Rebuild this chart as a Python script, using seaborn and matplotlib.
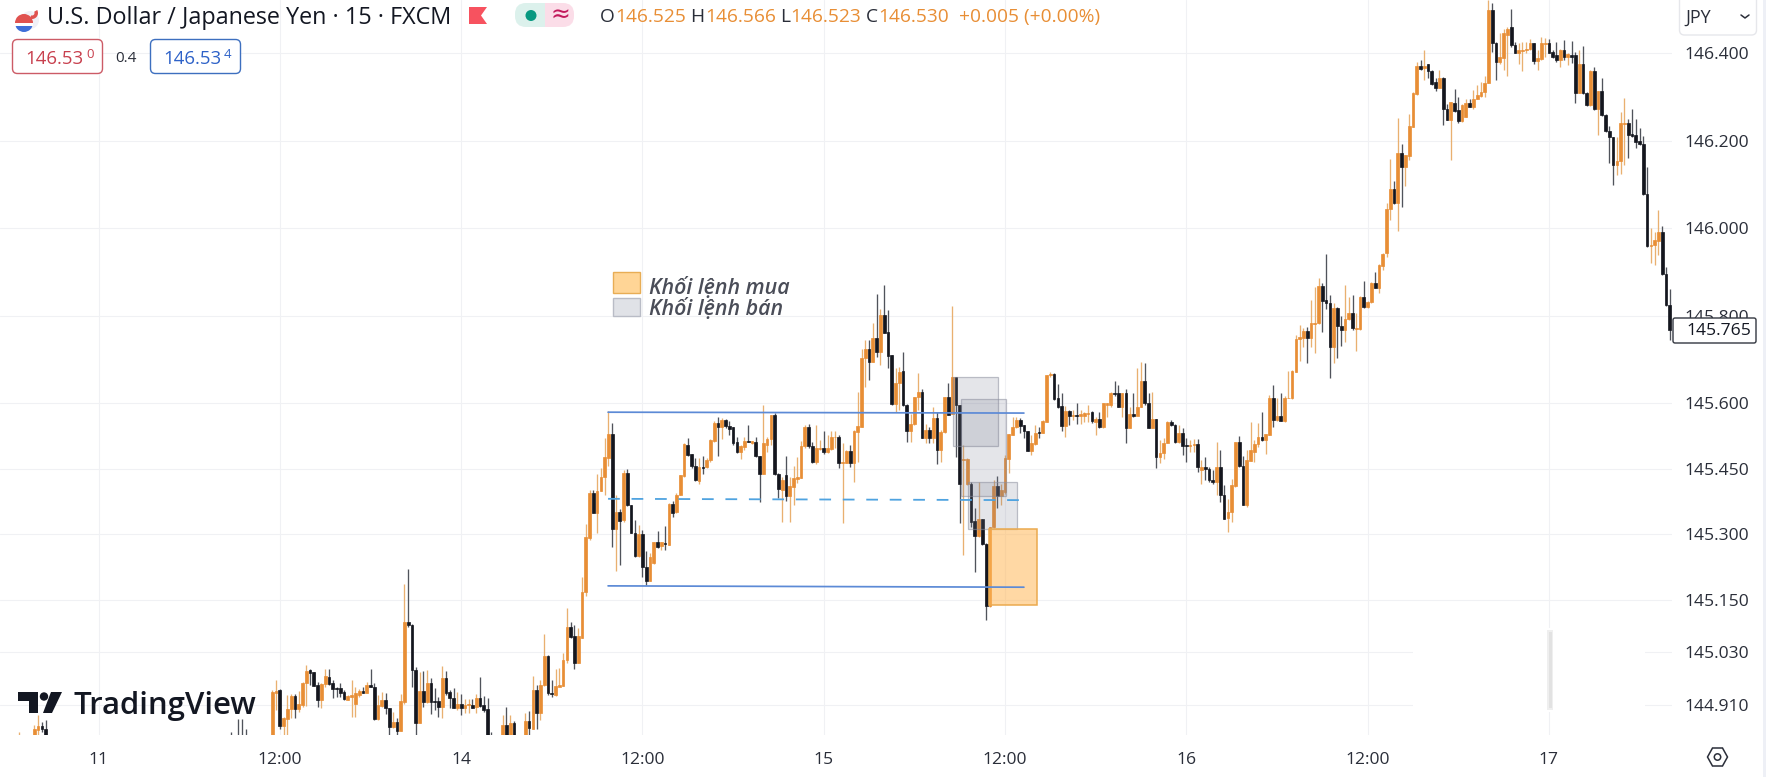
import numpy as np
import pandas as pd
import seaborn as sns
import matplotlib
matplotlib.use("Agg")
import matplotlib.pyplot as plt
from matplotlib.patches import Rectangle, FancyBboxPatch, Circle, Polygon, Wedge

# ---------- candle data (15-minute USD/JPY bars) ----------
opens = [144.83,144.938,144.944,144.861,144.877,144.900,144.930,144.900,144.909,144.959,
144.989,144.984,144.955,144.921,144.957,144.974,144.960,144.949,144.948,144.940,
144.922,144.928,144.911,144.932,144.941,144.938,144.955,144.950,144.877,144.907,
144.921,144.902,144.860,144.871,144.851,144.917,145.100,145.093,144.990,144.869,
144.942,144.917,144.961,144.919,144.919,144.906,144.971,144.940,144.925,144.904,
144.913,144.904,144.909,144.910,144.906,144.925,144.910,144.901,144.82,144.80,
144.79,144.80,144.864,144.80,144.869,144.80,144.81,144.82,144.873,144.856,
144.944,144.891,144.955,145.022,144.938,144.933,144.952,144.954,145.012,145.087,
145.067,145.006,145.064,145.169,145.291,145.394,145.348,145.400,145.432,145.474,
145.529,145.312,145.352,145.333,145.440,145.366,145.304,145.251,145.301,145.226,
145.194,145.234,145.282,145.274,145.280,145.276,145.370,145.350,145.390,145.434,
145.504,145.484,145.456,145.421,145.453,145.453,145.469,145.514,145.554,145.546,
145.562,145.548,145.544,145.510,145.489,145.499,145.514,145.508,145.511,145.479,
145.437,145.504,145.517,145.573,145.438,145.402,145.436,145.388,145.409,145.426,
145.428,145.501,145.546,145.502,145.466,145.495,145.497,145.488,145.495,145.522,
145.523,145.464,145.464,145.490,145.464,145.533,145.546,145.704,145.723,145.694,
145.748,145.716,145.801,145.762,145.710,145.597,145.645,145.673,145.595,145.536,
145.552,145.613,145.626,145.519,145.538,145.519,145.565,145.493,145.533,145.614,
145.576,145.659,145.595,145.470,145.416,145.416,145.331,145.297,145.334,145.277,
145.136,145.316,145.410,145.387,145.397,145.473,145.528,145.546,145.561,145.550,
145.536,145.491,145.506,145.534,145.532,145.557,145.663,145.666,145.611,145.592,
145.548,145.582,145.571,145.573,145.571,145.571,145.576,145.580,145.557,145.563,
145.546,145.595,145.595,145.624,145.622,145.592,145.622,145.544,145.576,145.571,
145.590,145.650,145.599,145.544,145.563,145.476,145.485,145.509,145.557,145.550,
145.512,145.531,145.504,145.502,145.504,145.506,145.448,145.454,145.449,145.425,
145.420,145.454,145.390,145.338,145.350,145.411,145.510,145.456,145.366,145.468,
145.489,145.506,145.523,145.516,145.526,145.612,145.561,145.571,145.558,145.611,
145.611,145.672,145.746,145.748,145.765,145.748,145.781,145.782,145.868,145.836,
145.828,145.727,145.817,145.776,145.767,145.792,145.805,145.769,145.769,145.843,
145.819,145.832,145.874,145.864,145.914,145.942,146.044,146.089,146.057,146.172,
146.140,146.165,146.232,146.307,146.370,146.365,146.375,146.359,146.333,146.319,
146.343,146.271,146.247,146.285,146.269,146.245,146.253,146.285,146.276,146.296,
146.302,146.311,146.332,146.498,146.422,146.379,146.388,146.441,146.460,146.418,
146.401,146.405,146.408,146.409,146.422,146.382,146.386,146.420,146.422,146.403,
146.395,146.385,146.408,146.391,146.395,146.395,146.309,146.375,146.309,146.281,
146.359,146.271,146.314,146.258,146.222,146.207,146.144,146.154,146.237,146.241,
146.214,146.212,146.199,146.191,146.078,145.959,145.961,145.971,145.990,145.895,145.824]

closes = [144.940,144.942,144.861,144.880,144.900,144.930,144.900,144.912,144.959,144.988,
144.982,144.954,144.921,144.957,144.976,144.957,144.946,144.947,144.938,144.923,
144.930,144.932,144.938,144.941,144.938,144.955,144.950,144.877,144.909,144.921,
144.902,144.860,144.871,144.851,144.919,145.100,145.093,144.990,144.869,144.942,
144.917,144.959,144.917,144.917,144.906,144.971,144.938,144.925,144.904,144.913,
144.904,144.910,144.911,144.904,144.925,144.908,144.898,144.82,144.80,144.79,
144.80,144.864,144.80,144.868,144.80,144.81,144.82,144.873,144.858,144.944,
144.891,144.955,145.022,144.938,144.934,144.953,144.955,145.012,145.087,145.066,
145.006,145.067,145.168,145.293,145.394,145.348,145.400,145.432,145.476,145.529,
145.312,145.352,145.331,145.440,145.366,145.304,145.251,145.301,145.226,145.194,
145.249,145.283,145.272,145.282,145.277,145.370,145.348,145.390,145.436,145.506,
145.482,145.455,145.423,145.453,145.451,145.470,145.516,145.554,145.546,145.562,
145.548,145.540,145.508,145.489,145.501,145.514,145.511,145.514,145.479,145.437,
145.508,145.517,145.573,145.438,145.403,145.424,145.388,145.411,145.428,145.430,
145.502,145.546,145.501,145.466,145.497,145.497,145.487,145.497,145.523,145.523,
145.464,145.466,145.490,145.464,145.536,145.547,145.704,145.723,145.694,145.748,
145.716,145.801,145.761,145.707,145.597,145.645,145.672,145.595,145.536,145.553,
145.613,145.626,145.521,145.538,145.519,145.565,145.493,145.534,145.613,145.573,
145.659,145.595,145.416,145.472,145.472,145.329,145.297,145.334,145.277,145.136,
145.317,145.410,145.387,145.400,145.475,145.529,145.546,145.561,145.547,145.536,
145.491,145.508,145.532,145.532,145.559,145.664,145.666,145.609,145.590,145.548,
145.582,145.571,145.573,145.571,145.574,145.578,145.578,145.559,145.563,145.546,
145.599,145.599,145.624,145.620,145.592,145.622,145.544,145.576,145.571,145.590,
145.650,145.599,145.544,145.563,145.476,145.486,145.509,145.557,145.550,145.512,
145.531,145.502,145.502,145.504,145.506,145.454,145.454,145.449,145.424,145.420,
145.454,145.390,145.336,145.350,145.413,145.510,145.455,145.366,145.470,145.493,
145.506,145.523,145.516,145.529,145.612,145.561,145.571,145.559,145.612,145.612,
145.674,145.747,145.750,145.765,145.748,145.782,145.784,145.868,145.834,145.828,
145.727,145.817,145.775,145.766,145.792,145.805,145.771,145.771,145.843,145.819,
145.832,145.874,145.864,145.916,145.941,146.044,146.089,146.057,146.172,146.140,
146.167,146.233,146.308,146.371,146.363,146.370,146.359,146.330,146.319,146.343,
146.271,146.247,146.287,146.267,146.245,146.281,146.286,146.277,146.296,146.304,
146.311,146.332,146.498,146.422,146.379,146.390,146.445,146.456,146.418,146.401,
146.407,146.408,146.410,146.422,146.382,146.388,146.422,146.422,146.401,146.391,
146.384,146.408,146.391,146.397,146.390,146.309,146.375,146.308,146.281,146.359,
146.271,146.314,146.258,146.222,146.207,146.144,146.154,146.239,146.241,146.212,
146.211,146.197,146.191,146.078,145.959,145.962,145.972,145.990,145.895,145.824,145.767]

highs = [144.945,144.967,144.946,144.883,144.932,144.934,144.936,144.941,144.963,145.001,
144.993,144.986,144.963,144.960,144.993,144.993,144.967,144.951,144.960,144.944,
144.932,144.967,144.951,144.946,144.951,144.963,144.991,144.960,144.932,144.940,
144.938,144.902,144.894,144.881,144.936,145.186,145.221,145.095,144.997,144.986,
144.988,144.990,144.971,144.948,144.929,144.999,144.987,144.944,144.949,144.939,
144.934,144.923,144.923,144.923,144.934,144.974,144.931,144.925,144.849,144.83,
144.835,144.887,144.906,144.887,144.872,144.83,144.835,144.891,144.896,144.976,
144.955,144.967,145.073,145.025,144.968,144.991,144.995,145.029,145.131,145.099,
145.093,145.086,145.203,145.324,145.402,145.402,145.438,145.451,145.520,145.581,
145.555,145.390,145.357,145.447,145.449,145.367,145.333,145.322,145.310,145.261,
145.257,145.283,145.308,145.283,145.318,145.371,145.377,145.394,145.436,145.508,
145.520,145.484,145.474,145.474,145.479,145.474,145.517,145.558,145.568,145.565,
145.563,145.560,145.546,145.522,145.504,145.523,145.550,145.514,145.522,145.479,
145.596,145.522,145.573,145.577,145.440,145.432,145.479,145.432,145.456,145.476,
145.514,145.549,145.552,145.512,145.550,145.516,145.537,145.527,145.535,145.535,
145.527,145.508,145.492,145.504,145.538,145.626,145.723,145.744,145.744,145.782,
145.849,145.814,145.870,145.813,145.710,145.681,145.683,145.717,145.597,145.576,
145.614,145.668,145.633,145.553,145.546,145.592,145.580,145.538,145.614,145.645,
145.822,145.659,145.595,145.504,145.475,145.420,145.361,145.420,145.336,145.279,
145.317,145.424,145.433,145.416,145.481,145.529,145.569,145.569,145.565,145.550,
145.536,145.527,145.550,145.546,145.561,145.664,145.672,145.668,145.643,145.622,
145.593,145.584,145.584,145.599,145.584,145.580,145.595,145.582,145.567,145.580,
145.601,145.601,145.626,145.651,145.641,145.624,145.633,145.590,145.622,145.679,
145.693,145.691,145.622,145.626,145.563,145.515,145.519,145.560,145.561,145.552,
145.550,145.542,145.519,145.515,145.517,145.518,145.470,145.477,145.454,145.447,
145.512,145.493,145.412,145.380,145.426,145.512,145.525,145.478,145.493,145.556,
145.516,145.554,145.579,145.529,145.619,145.641,145.611,145.622,145.615,145.674,
145.676,145.756,145.779,145.771,145.773,145.836,145.866,145.885,145.874,145.941,
145.847,145.828,145.820,145.798,145.870,145.843,145.847,145.805,145.845,145.879,
145.834,145.876,145.900,145.917,145.942,146.057,146.157,146.108,146.251,146.192,
146.167,146.261,146.312,146.379,146.385,146.407,146.376,146.361,146.342,146.361,
146.346,146.283,146.289,146.317,146.300,146.283,146.296,146.296,146.315,146.327,
146.334,146.347,146.521,146.515,146.426,146.445,146.456,146.460,146.500,146.426,
146.422,146.426,146.426,146.431,146.423,146.407,146.436,146.435,146.431,146.407,
146.426,146.410,146.430,146.401,146.428,146.403,146.407,146.416,146.311,146.361,
146.369,146.314,146.342,146.260,146.234,146.209,146.209,146.266,146.298,146.250,
146.273,146.249,146.228,146.210,146.140,145.999,145.991,146.042,146.004,145.911,145.860]

lows = [144.80,144.898,144.854,144.841,144.84,144.879,144.879,144.894,144.906,144.908,
144.955,144.953,144.906,144.902,144.951,144.955,144.925,144.927,144.927,144.921,
144.921,144.883,144.883,144.928,144.938,144.938,144.950,144.875,144.875,144.906,
144.890,144.841,144.858,144.84,144.851,144.912,145.087,144.952,144.84,144.869,
144.906,144.915,144.889,144.898,144.883,144.881,144.933,144.902,144.902,144.898,
144.888,144.892,144.892,144.904,144.892,144.906,144.893,144.80,144.78,144.77,
144.77,144.78,144.78,144.78,144.78,144.78,144.79,144.80,144.841,144.854,
144.856,144.875,144.953,144.933,144.929,144.930,144.953,144.953,145.006,145.064,
144.993,145.006,145.064,145.158,145.287,145.348,145.302,145.398,145.390,145.455,
145.270,145.215,145.229,145.329,145.365,145.302,145.249,145.249,145.203,145.183,
145.194,145.232,145.268,145.263,145.263,145.276,145.339,145.348,145.390,145.432,
145.478,145.451,145.421,145.415,145.438,145.451,145.466,145.512,145.478,145.517,
145.543,145.527,145.504,145.485,145.472,145.493,145.510,145.507,145.476,145.373,
145.437,145.487,145.504,145.436,145.382,145.327,145.375,145.327,145.367,145.417,
145.428,145.497,145.497,145.463,145.461,145.493,145.484,145.485,145.493,145.497,
145.451,145.325,145.462,145.454,145.419,145.466,145.546,145.637,145.653,145.694,
145.706,145.687,145.759,145.679,145.595,145.580,145.584,145.593,145.512,145.512,
145.550,145.584,145.521,145.508,145.508,145.508,145.460,145.466,145.531,145.573,
145.576,145.477,145.326,145.252,145.412,145.317,145.214,145.294,145.275,145.104,
145.134,145.314,145.359,145.367,145.393,145.441,145.527,145.544,145.531,145.519,
145.490,145.481,145.504,145.519,145.531,145.557,145.660,145.608,145.588,145.537,
145.523,145.550,145.561,145.551,145.552,145.557,145.557,145.555,145.527,145.544,
145.544,145.569,145.592,145.616,145.590,145.569,145.508,145.542,145.569,145.573,
145.590,145.595,145.542,145.542,145.451,145.462,145.473,145.508,145.548,145.508,
145.509,145.481,145.466,145.489,145.489,145.443,145.416,145.424,145.420,145.416,
145.390,145.374,145.336,145.306,145.329,145.409,145.453,145.366,145.363,145.468,
145.466,145.500,145.514,145.484,145.526,145.546,145.560,145.558,145.556,145.611,
145.609,145.670,145.695,145.727,145.692,145.729,145.715,145.781,145.763,145.814,
145.657,145.692,145.704,145.731,145.740,145.790,145.767,145.718,145.767,145.817,
145.817,145.828,145.862,145.852,145.904,145.933,146.019,146.055,145.994,146.047,
146.095,146.156,146.230,146.304,146.361,146.338,146.342,146.327,146.314,146.319,
146.235,146.247,146.155,146.266,146.241,146.243,146.253,146.276,146.273,146.296,
146.300,146.300,146.332,146.403,146.338,146.376,146.361,146.347,146.414,146.399,
146.376,146.359,146.399,146.407,146.376,146.362,146.384,146.391,146.399,146.388,
146.380,146.369,146.385,146.372,146.378,146.286,146.308,146.306,146.279,146.279,
146.270,146.212,146.256,146.220,146.148,146.098,146.121,146.123,146.144,146.159,
146.209,146.182,146.190,146.075,145.957,145.919,145.915,145.938,145.892,145.822,145.745]

# bars at the far left, mostly cut off by the lower edge of the chart
left_index = [-67,-63,-62,-61,-60,-11,-9,-8,-7]
left_open  = [144.82,144.84,144.853,144.862,144.855,144.81,144.81,144.81,144.81]
left_close = [144.83,144.855,144.862,144.855,144.83,144.80,144.80,144.80,144.80]
left_high  = [144.848,144.864,144.887,144.871,144.875,144.848,144.877,144.877,144.855]
left_low   = [144.80,144.83,144.841,144.848,144.82,144.78,144.78,144.78,144.78]

# axis labels
price_ticks = [146.4,146.2,146.0,145.8,145.6,145.45,145.3,145.15,145.03,144.91]
price_labels = ["146.400","146.200","146.000","145.800","145.600","145.450","145.300","145.150","145.030","144.910"]
time_ticks = [-46,2,50,98,146,194,242,290,338]
time_labels = ["11","12:00","14","12:00","15","12:00","16","12:00","17"]

# drawn annotations (bar index, price)
range_x = [88.9,199.0]
range_top = [145.579,145.577]
range_mid = [145.381,145.378]
range_bottom = [145.182,145.179]
sell_x0 = [180.2,182.3,184.2]
sell_x1 = [192.1,194.2,197.2]
sell_low = [145.502,145.387,145.312]
sell_high = [145.659,145.609,145.419]
buy_zone = dict(x0=189.8,x1=202.5,low=145.138,high=145.312)
legend_labels = ["Khối lệnh mua","Khối lệnh bán"]

ORANGE = "#E88E35"; BLACK = "#14161E"
W_ORANGE = "#E9B070"; W_BLACK = "#50535B"
TXT = "#2A2E39"
W, H = 1766, 777
FONT = "Open Sans"

sns.set_theme(style="white", rc={"font.family": FONT, "axes.facecolor": "white"})
plt.rcParams["font.family"] = [FONT, "DejaVu Sans"]

df = pd.DataFrame({"bar": left_index + list(range(len(opens))),
                   "open": left_open + opens, "close": left_close + closes,
                   "high": left_high + highs, "low": left_low + lows})
df["up"] = df["close"] >= df["open"]

fig = plt.figure(figsize=(W/100, H/100), dpi=100, facecolor="white")
RIGHT, BOTTOM = 1672, 735
ax = fig.add_axes([0, 1-BOTTOM/H, RIGHT/W, BOTTOM/H])
X0, DX = 272.3, 3.777
ax.set_xlim(-X0/DX, (RIGHT-X0)/DX)
ax.set_ylim(146.4-(BOTTOM-53)/437.5, 146.4+53/437.5)

ax.set_yticks(price_ticks, price_labels)
ax.set_xticks(time_ticks, time_labels)
ax.yaxis.tick_right()
ax.tick_params(axis="y", length=0, pad=9, labelsize=12.6, labelcolor=TXT)
ax.tick_params(axis="x", length=0, pad=12, labelsize=12.6, labelcolor=TXT)
ax.grid(True, color="#F0F1F4", lw=0.8)
ax.set_axisbelow(True)
sns.despine(ax=ax, left=True, bottom=True, right=True, top=True)

for is_up, wick, body in [(True, W_ORANGE, ORANGE), (False, W_BLACK, BLACK)]:
    d = df[df["up"] == is_up]
    ax.vlines(d["bar"], d["low"], d["high"], color=wick, lw=0.95, zorder=2)
    ax.bar(d["bar"], (d["close"]-d["open"]).abs(), bottom=d[["open","close"]].min(axis=1),
           width=0.72, color=body, edgecolor=body, lw=0.5, zorder=3)

for x0, x1, lo, hi in zip(sell_x0, sell_x1, sell_low, sell_high):
    ax.add_patch(Rectangle((x0, lo), x1-x0, hi-lo, fc=(0.47,0.49,0.57,0.2), ec=(0.55,0.56,0.62,0.55), lw=0.9, zorder=4))
ax.add_patch(Rectangle((buy_zone["x0"], buy_zone["low"]), buy_zone["x1"]-buy_zone["x0"], buy_zone["high"]-buy_zone["low"],
                       fc=(1.0,0.72,0.35,0.55), ec="#EBAA4E", lw=1.1, zorder=4))

sns.lineplot(x=range_x, y=range_top, color="#5C8AD6", lw=1.25, ax=ax, zorder=5)
sns.lineplot(x=range_x, y=range_bottom, color="#5C8AD6", lw=1.25, ax=ax, zorder=5)
sns.lineplot(x=range_x, y=range_mid, color="#4FA3E0", lw=1.3, ax=ax, zorder=5, dashes=False, linestyle=(0,(6.5,6.5)))

# ---------- overlay in pixels for the application chrome ----------
ov = fig.add_axes([0, 0, 1, 1], facecolor="none")
ov.set_xlim(0, W); ov.set_ylim(H, 0); ov.axis("off")

def T(x, y, s, size=12.6, color=TXT, ha="left", **kw):
    return ov.text(x, y, s, fontsize=size, color=color, ha=ha, va="center", **kw)

# faded patch lower right
ov.add_patch(Rectangle((1413, 628), 232, 84, fc="white", ec="none"))
ov.add_patch(Rectangle((1547, 630), 6, 80, fc="#EFEFEF", ec="none"))
ov.add_patch(Rectangle((1548.5, 632), 3, 76, fc="#E2E2E2", ec="none"))
# right edge strip
ov.add_patch(Rectangle((1763, 0), 3, H, fc="#EEF0F6", ec="none"))

# symbol icon
ov.add_patch(Circle((30, 20), 9, fc="#F0F0F6", ec="none"))
ov.add_patch(Wedge((24, 23), 9, 0, 180, fc="#3F6FD8", ec="none"))
ov.add_patch(Wedge((24, 23), 9, 180, 360, fc="#E0524F", ec="none"))
ov.add_patch(Rectangle((15, 23), 18, 2.5, fc="white", ec="none"))
ov.add_patch(Wedge((32, 13), 6, -30, 110, width=3.5, fc="#E0524F", ec="none"))

T(47, 18, "U.S. Dollar / Japanese Yen · 15 · FXCM", size=16.8, color="#131722")
ov.add_patch(Polygon([(469,7),(487,7),(481,15.5),(487,24),(469,24)], fc="#F7525F", ec="none"))
ov.add_patch(FancyBboxPatch((527,3),47,24, boxstyle="round,pad=0,rounding_size=11", fc="#FBDDE8", ec="none"))
ov.add_patch(FancyBboxPatch((515,3),30,24, boxstyle="round,pad=0,rounding_size=11", fc="#DCF1EC", ec="none"))
ov.add_patch(Rectangle((532,3),13,24, fc="#DCF1EC", ec="none"))
ov.add_patch(Circle((531,15.5), 5.5, fc="#089981", ec="none"))
T(560, 15, "≈", size=17, color="#C2185B", ha="center", fontfamily="DejaVu Sans")

# OHLC strip
xpos = 600
for s, c in [("O",TXT),("146.525",ORANGE),(" H",TXT),("146.566",ORANGE),(" L",TXT),("146.523",ORANGE),
             (" C",TXT),("146.530",ORANGE),("  +0.005 (+0.00%)",ORANGE)]:
    t = T(xpos, 17, s, size=13.8, color=c)
    xpos = t.get_window_extent(fig.canvas.get_renderer()).x1

# bid / ask boxes
ov.add_patch(FancyBboxPatch((12.5,39.5),90,34, boxstyle="round,pad=0,rounding_size=5", fc="white", ec="#CC5B66", lw=1))
T(25, 59, "146.53", size=13.4, color="#C8404E"); T(86, 55, "0", size=9.5, color="#C8404E")
T(115, 59, "0.4", size=11, color=TXT)
ov.add_patch(FancyBboxPatch((150.5,39.5),90,34, boxstyle="round,pad=0,rounding_size=5", fc="white", ec="#3D6FBF", lw=1))
T(163, 59, "146.53", size=13.4, color="#2E62C8"); T(224, 55, "4", size=9.5, color="#2E62C8")

# drawn legend
for (y0, y1, fc, ec), lab, yc in zip([(272,293,"#FFD596","#E8AD55"),(298,316,"#E0E2E7","#B9BCC6")], legend_labels, [288,309]):
    ov.add_patch(Rectangle((613,y0),27,y1-y0, fc=fc, ec=ec, lw=1))
    T(649, yc, lab, size=15.4, color="#4A4D58", style="italic", fontweight="semibold")

# JPY button
ov.add_patch(FancyBboxPatch((1679.5,-6),77,41, boxstyle="round,pad=0,rounding_size=5", fc="white", ec="#E6E7EB", lw=1))
T(1685, 18, "JPY", size=13, color=TXT)
ov.plot([1741,1745,1749],[15,18,15], color=TXT, lw=1.1)

# last price
ov.add_patch(FancyBboxPatch((1673,318),83,25, boxstyle="round,pad=0,rounding_size=2", fc="white", ec="#333740", lw=1))
T(1686, 331, "145.765", size=12.6, color="#131722")

# settings icon
hx, hy = 1717.5, 757
ov.add_patch(Polygon([(hx-10,hy),(hx-5,hy-9),(hx+5,hy-9),(hx+10,hy),(hx+5,hy+9),(hx-5,hy+9)], fc="none", ec=TXT, lw=1.1))
ov.add_patch(Circle((hx,hy), 3.2, fc="none", ec=TXT, lw=1.1))

# TradingView watermark
LOGO = "#131722"
ov.add_patch(Polygon([(18,692),(38,692),(38,713),(29,713),(29,701),(18,701)], fc=LOGO, ec="none"))
ov.add_patch(Circle((44,696.5), 4.2, fc=LOGO, ec="none"))
ov.add_patch(Polygon([(51,692),(62,692),(52,713),(43,713)], fc=LOGO, ec="none"))
T(73, 706, "TradingView", size=22.4, color=LOGO, fontweight="semibold")

fig.savefig("out.png", dpi=100, facecolor="white")
